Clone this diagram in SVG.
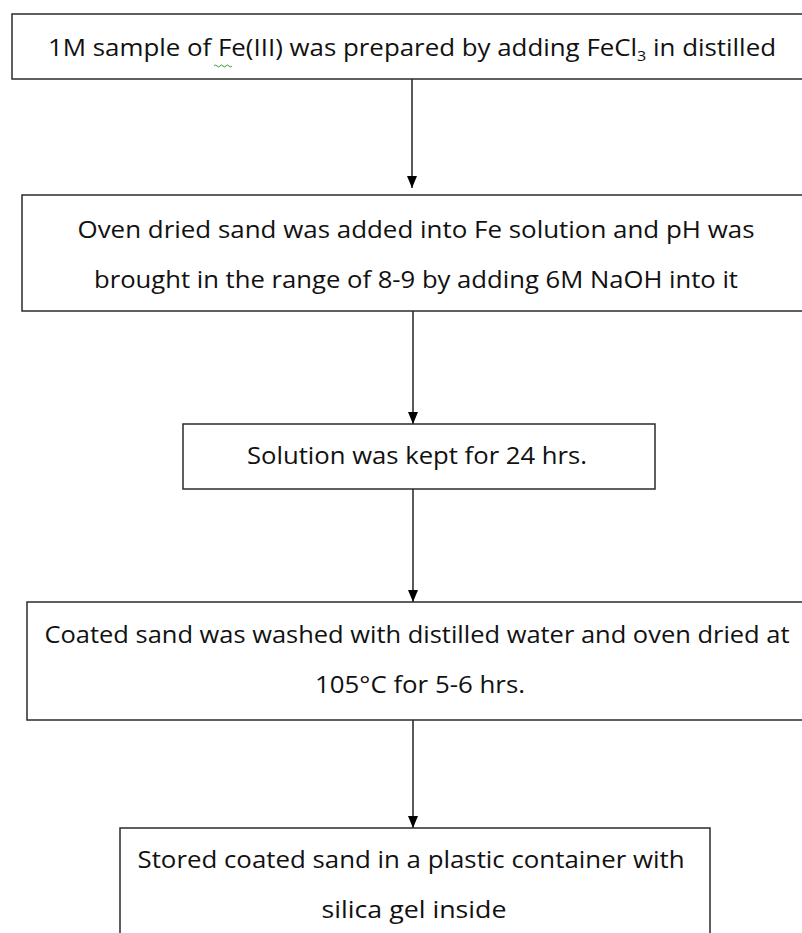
<svg xmlns="http://www.w3.org/2000/svg" width="802" height="933" viewBox="0 0 802 933">
<style>
.box{fill:#fff;stroke:#2b2b2b;stroke-width:1.5}
.t{font-family:"Open Sans","Noto Sans",sans-serif;font-size:24px;fill:#111;text-anchor:middle}
.c{stroke:#000;stroke-width:1.3;fill:none}
</style>
<defs>
<marker id="ah" viewBox="0 0 12 10" refX="12" refY="5" markerWidth="12" markerHeight="10" markerUnits="userSpaceOnUse" orient="auto">
<path d="M0,0 L12,5 L0,10 Z" fill="#000"/>
</marker>
</defs>
<rect width="802" height="933" fill="#fff"/>
<g id="connectors">
<line class="c" x1="412" y1="79" x2="412" y2="188" marker-end="url(#ah)"/>
<line class="c" x1="413" y1="311" x2="413" y2="424" marker-end="url(#ah)"/>
<line class="c" x1="413" y1="489" x2="413" y2="602" marker-end="url(#ah)"/>
<line class="c" x1="413" y1="720" x2="413" y2="828" marker-end="url(#ah)"/>
</g>
<g id="n1">
<rect class="box" x="12" y="14" width="800" height="65"/>
<text class="t" x="412" y="56" textLength="728" lengthAdjust="spacingAndGlyphs">1M sample of Fe(III) was prepared by adding FeCl<tspan font-size="15" dy="5">3</tspan><tspan dy="-5"> in distilled</tspan></text>
<path d="M214,66 q1.5,-2 3,0 t3,0 t3,0 t3,0 t3,0 t3,0" fill="none" stroke="#3a9a3a" stroke-width="1"/>
</g>
<g id="n2">
<rect class="box" x="22" y="195" width="790" height="116"/>
<text class="t" x="416" y="238" textLength="677" lengthAdjust="spacingAndGlyphs">Oven dried sand was added into Fe solution and pH was</text>
<text class="t" x="416" y="288" textLength="644" lengthAdjust="spacingAndGlyphs">brought in the range of 8-9 by adding 6M NaOH into it</text>
</g>
<g id="n3">
<rect class="box" x="183" y="424" width="472" height="65"/>
<text class="t" x="417" y="464" textLength="340" lengthAdjust="spacingAndGlyphs">Solution was kept for 24 hrs.</text>
</g>
<g id="n4">
<rect class="box" x="27" y="602" width="785" height="118"/>
<text class="t" x="417" y="643" textLength="745" lengthAdjust="spacingAndGlyphs">Coated sand was washed with distilled water and oven dried at</text>
<text class="t" x="420" y="693" textLength="210" lengthAdjust="spacingAndGlyphs">105°C for 5-6 hrs.</text>
</g>
<g id="n5">
<rect class="box" x="120" y="828" width="590" height="120"/>
<text class="t" x="411" y="868" textLength="547" lengthAdjust="spacingAndGlyphs">Stored coated sand in a plastic container with</text>
<text class="t" x="414" y="918" textLength="185" lengthAdjust="spacingAndGlyphs">silica gel inside</text>
</g>
</svg>
